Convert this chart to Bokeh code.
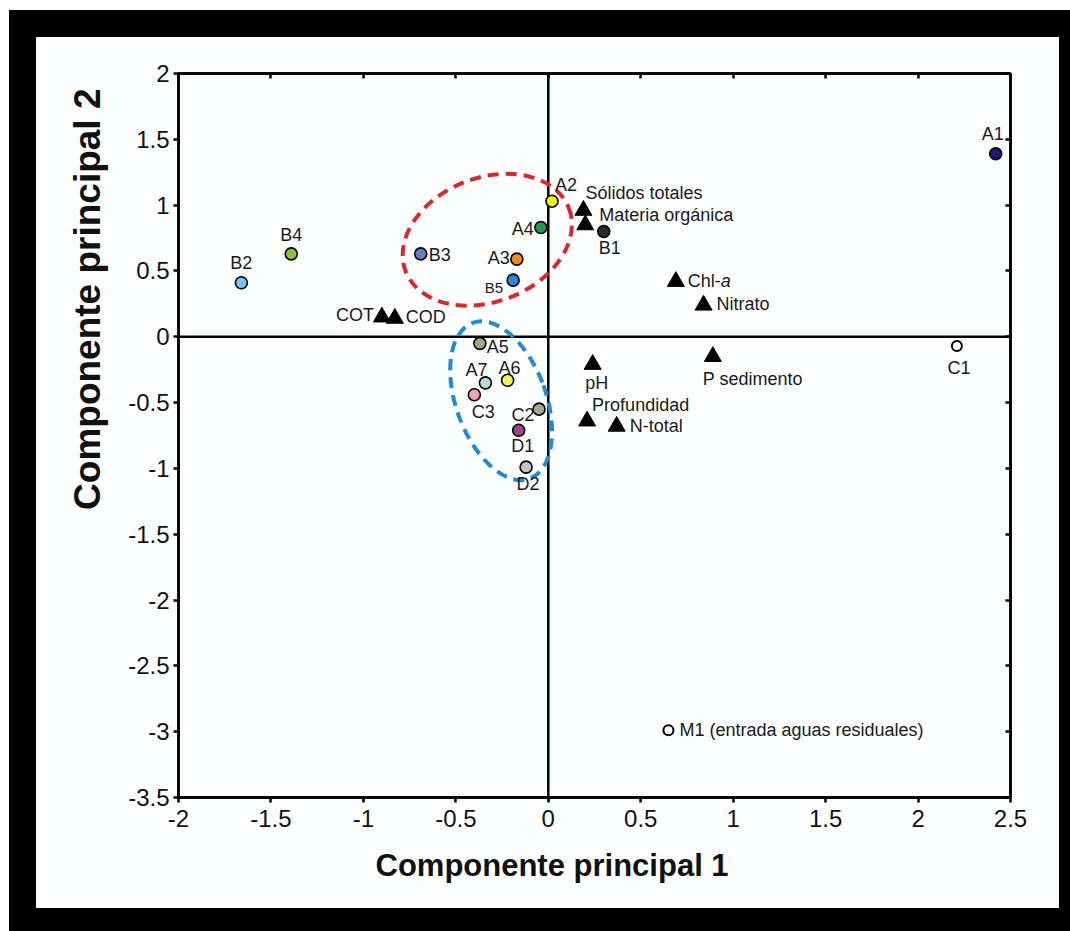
import math
from bokeh.plotting import figure
from bokeh.models import ColumnDataSource, Range1d, LinearAxis, Span, FixedTicker, Label, Title
from bokeh.core.properties import value
from bokeh.embed import file_html
from bokeh.resources import INLINE

# ---------------- data ----------------
site_names = ["A1", "A2", "A4", "B1", "B3", "A3", "B5", "B4", "B2", "A5", "A6", "A7",
              "C3", "C2", "D1", "D2", "C1", "M1 (entrada aguas residuales)"]
site_pc1 = [2.42, 0.02, -0.04, 0.30, -0.69, -0.17, -0.19, -1.39, -1.66, -0.37, -0.22, -0.34,
            -0.40, -0.05, -0.16, -0.12, 2.21, 0.65]
site_pc2 = [1.39, 1.03, 0.83, 0.80, 0.63, 0.59, 0.43, 0.63, 0.41, -0.05, -0.33, -0.35,
            -0.44, -0.55, -0.71, -0.99, -0.07, -2.99]
site_colors = ["#1c1a78", "#f7f21a", "#1f9a48", "#2a2a2a", "#6a7fc0", "#f08a24", "#2f86d6",
               "#8cc43c", "#7ec3ef", "#a3a584", "#f7f060", "#b4e0d4", "#f2a3b3", "#a8a68a",
               "#a0408f", "#c4c4c4", "white", "white"]

var_names = ["Sólidos totales", "Materia orgánica", "Chl-a", "Nitrato", "COT", "COD",
             "pH", "P sedimento", "Profundidad", "N-total"]
var_pc1 = [0.19, 0.20, 0.69, 0.84, -0.90, -0.83, 0.24, 0.89, 0.21, 0.37]
var_pc2 = [0.96, 0.85, 0.42, 0.24, 0.15, 0.14, -0.21, -0.15, -0.64, -0.68]

# grouping ellipses (centre in PC units)
group_pc1 = [-0.33, -0.255]
group_pc2 = [0.737, -0.486]
group_colors = ["#d8282c", "#1e8bd4"]

x_ticks = [-2, -1.5, -1, -0.5, 0, 0.5, 1, 1.5, 2, 2.5]
x_tick_labels = ["-2", "-1.5", "-1", "-0.5", "0", "0.5", "1", "1.5", "2", "2.5"]
y_ticks = [-3.5, -3, -2.5, -2, -1.5, -1, -0.5, 0, 0.5, 1, 1.5, 2]
y_tick_labels = ["-3.5", "-3", "-2.5", "-2", "-1.5", "-1", "-0.5", "0", "0.5", "1", "1.5", "2"]

x_title = "Componente principal 1"
y_title = "Componente principal 2"

# ---------------- label placement (screen px) ----------------
site_dx = [-3, 3, -7, 6, 8, -7, -10, 0, 0, 7, 2, -9, 9, -16, 4, 2, 2, 11]
site_dy = [-20, -16, 1, 17, 1, -1, 7, -19, -20, 4, -12, -13, 17, 6, 16, 17, 22, 0]
site_align = ["center", "left", "right", "center", "left", "right", "right", "center", "center",
              "left", "center", "center", "center", "center", "center", "center", "center", "left"]
site_fs = ["18px"] * len(site_names)
site_fs[site_names.index("B5")] = "15px"

var_dx = [2, 14, 12, 13, -8, 11, 4, -10, 5, 13]
var_dy = [-17, -10, 0, -1, -2, -1, 19, 22, -16, 0]
var_align = ["left", "left", "left", "left", "right", "left", "center", "left", "left", "left"]

FONT = "Liberation Sans"
BG = "#fdfefe"

# the black frame is a CSS border (border-box); canvas overflows under it on the right/bottom
p = figure(width=1061, height=921, x_range=Range1d(-2, 2.5), y_range=Range1d(-3.5, 2),
           output_backend="svg", toolbar_location=None,
           min_border_left=142, min_border_top=36, min_border_right=87, min_border_bottom=161,
           background_fill_color=BG, border_fill_color=BG)
p.margin = (10, 0, 0, 9)
p.styles = {"border-style": "solid", "border-color": "black",
            "border-width": "27px 11px 23px 27px", "overflow": "hidden"}
p.grid.visible = False
p.outline_line_color = "black"
p.outline_line_width = 2.5

# axes
xa = p.xaxis[0]
ya = p.yaxis[0]
xa.ticker = FixedTicker(ticks=x_ticks)
ya.ticker = FixedTicker(ticks=y_ticks)
xa.major_label_overrides = {t: l for t, l in zip(x_ticks, x_tick_labels)}
ya.major_label_overrides = {t: l for t, l in zip(y_ticks, y_tick_labels)}
for ax in (xa, ya):
    ax.minor_tick_line_color = None
    ax.major_tick_in = 0
    ax.major_tick_out = 5
    ax.major_tick_line_width = 2.5
    ax.axis_line_width = 2.5
    ax.major_label_text_font = FONT
    ax.major_label_text_font_size = "24px"
    ax.major_label_text_color = "#111111"
xa.major_label_standoff = 7
ya.major_label_standoff = 4

top_ax = LinearAxis(ticker=FixedTicker(ticks=x_ticks))
right_ax = LinearAxis(ticker=FixedTicker(ticks=y_ticks))
top_ax.major_label_overrides = {t: "" for t in x_ticks}
right_ax.major_label_overrides = {t: "" for t in y_ticks}
for ax in (top_ax, right_ax):
    ax.major_label_text_color = None
    ax.major_label_standoff = 0
    ax.minor_tick_line_color = None
    ax.major_tick_in = 5
    ax.major_tick_out = 0
    ax.major_tick_line_width = 2.5
    ax.axis_line_width = 2.5
p.add_layout(top_ax, "above")
p.add_layout(right_ax, "right")

# axis titles (as in the original: x title centred on PC1 = 0, y title in upper part)
p.add_layout(Title(text=x_title, align="left", offset=197, standoff=32,
                   text_font=FONT, text_font_size="31px", text_font_style="bold",
                   text_color="#111111"), "below")
p.add_layout(Title(text=y_title, align="right", offset=15, standoff=36,
                   text_font=FONT, text_font_size="37px", text_font_style="bold",
                   text_color="#111111"), "left")

# zero lines
p.add_layout(Span(location=0, dimension="height", line_color="black", line_width=2.5, level="underlay"))
p.add_layout(Span(location=0, dimension="width", line_color="black", line_width=2.5, level="underlay"))

# group ellipses
p.ellipse(x=group_pc1[0:1], y=group_pc2[0:1], width=175, height=124, angle=0.37,
          width_units="screen", height_units="screen", fill_color=None,
          line_color=group_colors[0], line_width=4, line_dash="11 7")
p.ellipse(x=group_pc1[1:2], y=group_pc2[1:2], width=90, height=166, angle=0.35,
          width_units="screen", height_units="screen", fill_color=None,
          line_color=group_colors[1], line_width=4, line_dash="11 7")

# variables (triangles)
vsrc = ColumnDataSource(dict(x=var_pc1, y=var_pc2,
                             t=[n[:-1] if n == "Chl-a" else n for n in var_names],
                             dx=var_dx, dy=var_dy, al=var_align))
p.scatter("x", "y", source=vsrc, marker="triangle", size=17, fill_color="black", line_color="black")
p.text("x", "y", text="t", source=vsrc, x_offset="dx", y_offset="dy", text_align="al",
       text_baseline="middle", text_font=value(FONT), text_font_size=value("18px"),
       text_color="#1a1a1a")
ci = var_names.index("Chl-a")
p.add_layout(Label(x=var_pc1[ci], y=var_pc2[ci], text="a", x_offset=var_dx[ci] + 33, y_offset=0,
                   text_align="left", text_baseline="middle", text_font=FONT,
                   text_font_size="18px", text_font_style="italic", text_color="#1a1a1a"))

# sites (circles)
filled = [i for i, c in enumerate(site_colors) if c != "white"]
opened = [i for i, c in enumerate(site_colors) if c == "white"]
fsrc = ColumnDataSource(dict(x=[site_pc1[i] for i in filled], y=[site_pc2[i] for i in filled],
                             c=[site_colors[i] for i in filled]))
osrc = ColumnDataSource(dict(x=[site_pc1[i] for i in opened], y=[site_pc2[i] for i in opened]))
p.scatter("x", "y", source=fsrc, size=12, fill_color="c", line_color="black", line_width=1.6)
p.scatter("x", "y", source=osrc, size=10, fill_color="white", line_color="black", line_width=2)

ssrc = ColumnDataSource(dict(x=site_pc1, y=site_pc2, t=site_names, dx=site_dx, dy=site_dy,
                             al=site_align, fs=site_fs))
p.text("x", "y", text="t", source=ssrc, x_offset="dx", y_offset="dy", text_align="al",
       text_baseline="middle", text_font=value(FONT), text_font_size="fs", text_color="#1a1a1a")

open("out.html", "w").write(file_html(p, INLINE))
